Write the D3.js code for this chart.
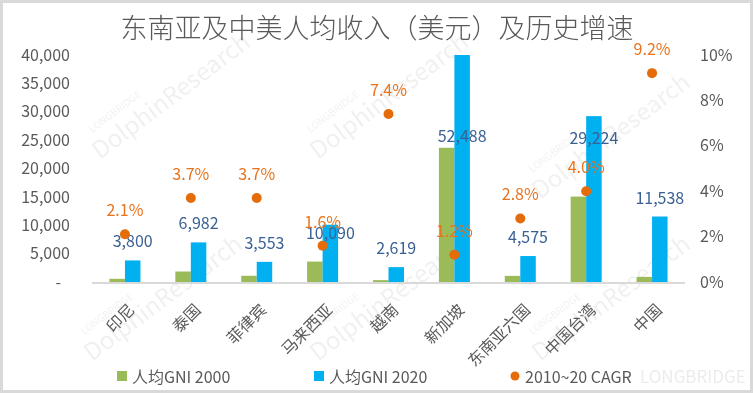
<!DOCTYPE html>
<html>
<head>
<meta charset="utf-8">
<script src="https://cdn.jsdelivr.net/npm/d3@7/dist/d3.min.js"></script>
<style>
  html, body { margin: 0; padding: 0; background: #fff; }
  svg { display: block; }
  text { font-family: "Noto Sans CJK SC", "Noto Sans", sans-serif; }
</style>
</head>
<body>
<svg id="chart" width="753" height="393"></svg>
<script>
// ---- data ----
const categories = ["印尼", "泰国", "菲律宾", "马来西亚", "越南", "新加坡", "东南亚六国", "中国台湾", "中国"];
const gni2000 = [560, 1850, 1100, 3600, 330, 23650, 1080, 15050, 900];
const gni2020 = [3800, 6982, 3553, 10090, 2619, 52488, 4575, 29224, 11538];
const cagr = [0.021, 0.037, 0.037, 0.016, 0.074, 0.012, 0.028, 0.040, 0.092];
const leftTicks = [0, 5000, 10000, 15000, 20000, 25000, 30000, 35000, 40000];
const rightTicks = [0, 0.02, 0.04, 0.06, 0.08, 0.10];
const seriesNames = ["人均GNI 2000", "人均GNI 2020", "2010~20 CAGR"];
const title = "东南亚及中美人均收入（美元）及历史增速";

// ---- layout / style ----
const W = 753, H = 393;
const plot = { left: 92, right: 685, top: 55, bottom: 282 };
const colors = { g2000: "#9BBB59", g2020: "#00B0F0", cagr: "#E46C0A", label: "#3A6094", cagrLabel: "#E8731C", axisText: "#595959", axisLine: "#D9D9D9" };
// manual nudges of some value labels (as placed in the original)
const labelNudge = { "马来西亚": 27, "新加坡": 100, "中国台湾": 41 };

const svg = d3.select("#chart");

// border
svg.append("rect").attr("x", 1.5).attr("y", 1.5).attr("width", W - 3).attr("height", H - 3)
  .attr("fill", "#fff").attr("stroke", "#D9D9D9").attr("stroke-width", 3);

// watermarks
const wm = svg.append("g").attr("fill", "#000").attr("opacity", 0.06);
const wmPos = [[100, 160], [318, 160], [540, 200], [92, 362], [318, 362], [540, 362]];
wmPos.forEach(([x, y]) => {
  const g = wm.append("g").attr("transform", `translate(${x},${y}) rotate(-37)`);
  g.append("text").attr("x", 10).attr("y", -26).attr("font-size", 10).attr("font-family", "Open Sans").text("LONGBRIDGE");
  g.append("text").attr("x", 0).attr("y", 0).attr("font-size", 24).attr("font-family", "Open Sans").text("DolphinResearch");
});
svg.append("text").attr("x", 640).attr("y", 383).attr("font-size", 17).attr("font-family", "Open Sans")
  .attr("fill", "#000").attr("opacity", 0.08).text("LONGBRIDGE");

// scales
const x = d3.scaleBand().domain(categories).range([plot.left, plot.right]).paddingInner(0).paddingOuter(0);
const barW = 15.5;
const yL = d3.scaleLinear().domain([0, 40000]).range([plot.bottom, plot.top]);
const yR = d3.scaleLinear().domain([0, 0.10]).range([plot.bottom, plot.top]);

// title
svg.append("text").attr("x", 377).attr("y", 38).attr("text-anchor", "middle")
  .attr("font-size", 27).attr("font-weight", 300).attr("fill", colors.axisText).text(title);

// left axis
const leftAxis = d3.axisLeft(yL).tickValues(leftTicks).tickSize(0).tickPadding(0)
  .tickFormat(d => d === 0 ? "-" : d3.format(",")(d));
const gl = svg.append("g").attr("transform", `translate(70,0)`).call(leftAxis);
gl.select(".domain").remove();
gl.selectAll("text").attr("font-size", 16).attr("fill", colors.axisText)
  .attr("font-family", "Noto Sans CJK SC")
  .attr("dx", d => d === 0 ? -9 : 0);

// right axis
const rightAxis = d3.axisRight(yR).tickValues(rightTicks).tickSize(0).tickPadding(0)
  .tickFormat(d3.format(".0%"));
const gr = svg.append("g").attr("transform", `translate(700,0)`).call(rightAxis);
gr.select(".domain").remove();
gr.selectAll("text").attr("font-size", 16).attr("fill", colors.axisText).attr("font-family", "Noto Sans CJK SC");

// clip
svg.append("clipPath").attr("id", "plotclip").append("rect")
  .attr("x", plot.left).attr("y", plot.top).attr("width", plot.right - plot.left).attr("height", plot.bottom - plot.top);

const data = categories.map((c, i) => ({ c, a: gni2000[i], b: gni2020[i], r: cagr[i] }));

const bars = svg.append("g").attr("clip-path", "url(#plotclip)");
bars.selectAll("rect.a").data(data).join("rect").attr("class", "a")
  .attr("x", d => x(d.c) + x.bandwidth() / 2 - barW)
  .attr("width", barW)
  .attr("y", d => yL(d.a)).attr("height", d => yL(0) - yL(d.a))
  .attr("fill", colors.g2000);
bars.selectAll("rect.b").data(data).join("rect").attr("class", "b")
  .attr("x", d => x(d.c) + x.bandwidth() / 2)
  .attr("width", barW)
  .attr("y", d => yL(Math.min(d.b, 40000))).attr("height", d => yL(0) - yL(Math.min(d.b, 40000)))
  .attr("fill", colors.g2020);

// x axis line
svg.append("line").attr("x1", plot.left).attr("x2", plot.right).attr("y1", plot.bottom + 1).attr("y2", plot.bottom + 1)
  .attr("stroke", colors.axisLine).attr("stroke-width", 2);

// x labels
svg.append("g").selectAll("text").data(categories).join("text")
  .attr("transform", d => `translate(${x(d) + x.bandwidth() / 2 + 6},${plot.bottom + 24}) rotate(-45)`)
  .attr("text-anchor", "end").attr("dominant-baseline", "central")
  .attr("font-size", 16).attr("fill", colors.axisText).text(d => d);

// value labels for 2020
svg.append("g").selectAll("text").data(data).join("text")
  .attr("x", d => x(d.c) + x.bandwidth() / 2 + barW / 2)
  .attr("y", d => yL(Math.min(d.b, 40000)) - 20 + (labelNudge[d.c] || 0))
  .attr("text-anchor", "middle").attr("dominant-baseline", "central")
  .attr("font-size", 16).attr("fill", colors.label).text(d => d3.format(",")(d.b));

// CAGR dots
svg.append("g").selectAll("circle").data(data).join("circle")
  .attr("cx", d => x(d.c) + x.bandwidth() / 2)
  .attr("cy", d => yR(d.r)).attr("r", 5).attr("fill", colors.cagr);
svg.append("g").selectAll("text").data(data).join("text")
  .attr("x", d => x(d.c) + x.bandwidth() / 2)
  .attr("y", d => yR(d.r) - 25)
  .attr("text-anchor", "middle").attr("dominant-baseline", "central")
  .attr("font-size", 16).attr("fill", colors.cagrLabel).text(d => d3.format(".1%")(d.r));

// legend
const leg = svg.append("g");
const legItems = [
  { name: seriesNames[0], x: 117, type: "rect", color: colors.g2000 },
  { name: seriesNames[1], x: 314, type: "rect", color: colors.g2020 },
  { name: seriesNames[2], x: 510, type: "circle", color: colors.cagr }
];
const legY = 376;
legItems.forEach(it => {
  if (it.type === "rect") {
    leg.append("rect").attr("x", it.x).attr("y", legY - 5).attr("width", 10).attr("height", 10).attr("fill", it.color);
  } else {
    leg.append("circle").attr("cx", it.x + 5).attr("cy", legY).attr("r", 4.5).attr("fill", it.color);
  }
  leg.append("text").attr("x", it.x + 15).attr("y", legY).attr("dominant-baseline", "central")
    .attr("font-size", 16).attr("fill", colors.axisText).text(it.name);
});
</script>
</body>
</html>
